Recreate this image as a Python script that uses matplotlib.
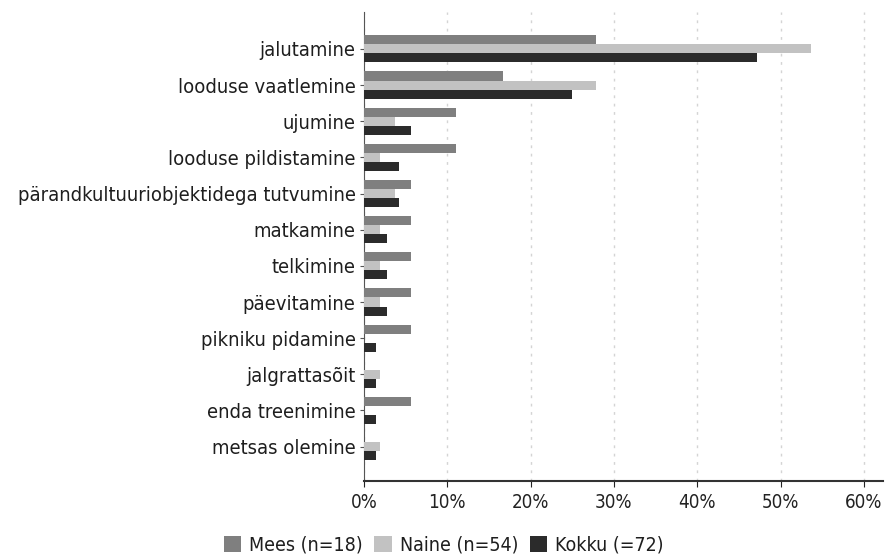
import matplotlib
matplotlib.use("Agg")
import matplotlib.pyplot as plt
import numpy as np
from matplotlib.ticker import FuncFormatter

categories = ["jalutamine", "looduse vaatlemine", "ujumine", "looduse pildistamine",
              "pärandkultuuriobjektidega tutvumine", "matkamine", "telkimine",
              "päevitamine", "pikniku pidamine", "jalgrattasõit", "enda treenimine",
              "metsas olemine"]
mees = [27.8, 16.7, 11.1, 11.1, 5.6, 5.6, 5.6, 5.6, 5.6, 0.0, 5.6, 0.0]
naine = [53.7, 27.8, 3.7, 1.9, 3.7, 1.9, 1.9, 1.9, 0.0, 1.9, 0.0, 1.9]
kokku = [47.2, 25.0, 5.6, 4.2, 4.2, 2.8, 2.8, 2.8, 1.4, 1.4, 1.4, 1.4]
series_labels = ["Mees (n=18)", "Naine (n=54)", "Kokku (=72)"]
colors = ["#7f7f7f", "#c2c2c2", "#2b2b2b"]

plt.rcParams['font.family'] = ['DejaVu Sans']
plt.rcParams['font.stretch'] = 'condensed'

fig = plt.figure(figsize=(8.87, 5.58), dpi=100)
ax = fig.add_axes([0.4104, 0.138, 0.5851, 0.8405])

y = np.arange(len(categories))
h = 0.25
for i, (vals, lab, c) in enumerate(zip([mees, naine, kokku], series_labels, colors)):
    ax.barh(y + (i - 1) * h, vals, height=h, color=c, label=lab, zorder=3)

ax.set_xlim(0, 62.3)
ax.set_ylim(11.95, -1.02)
ax.set_yticks(y)
ax.set_yticklabels(categories, fontsize=14.5, color="#1e1e1e", fontstretch='condensed')
ax.set_xticks(np.arange(0, 61, 10))
ax.xaxis.set_major_formatter(FuncFormatter(lambda v, p: f"{int(v)}%"))
ax.tick_params(axis='x', labelsize=13.5, colors="#222222", length=4, direction='out', pad=5)
ax.tick_params(axis='y', length=3, colors="#555555", labelcolor="#1e1e1e", pad=3)
ax.grid(axis='x', linestyle=(0, (2, 4)), color="#d4d4d4", linewidth=1, zorder=0)
for s in ['top', 'right']:
    ax.spines[s].set_visible(False)
ax.spines['left'].set_color("#555555")
ax.spines['bottom'].set_color("#333333")
ax.spines['bottom'].set_linewidth(1.5)

fig.legend(loc='center', bbox_to_anchor=(0.5, 0.023), ncol=3, frameon=False,
           fontsize=14, handlelength=0.9, handleheight=0.9, handletextpad=0.4,
           columnspacing=0.6, labelcolor="#1e1e1e")

fig.savefig("out.png", dpi=100)
